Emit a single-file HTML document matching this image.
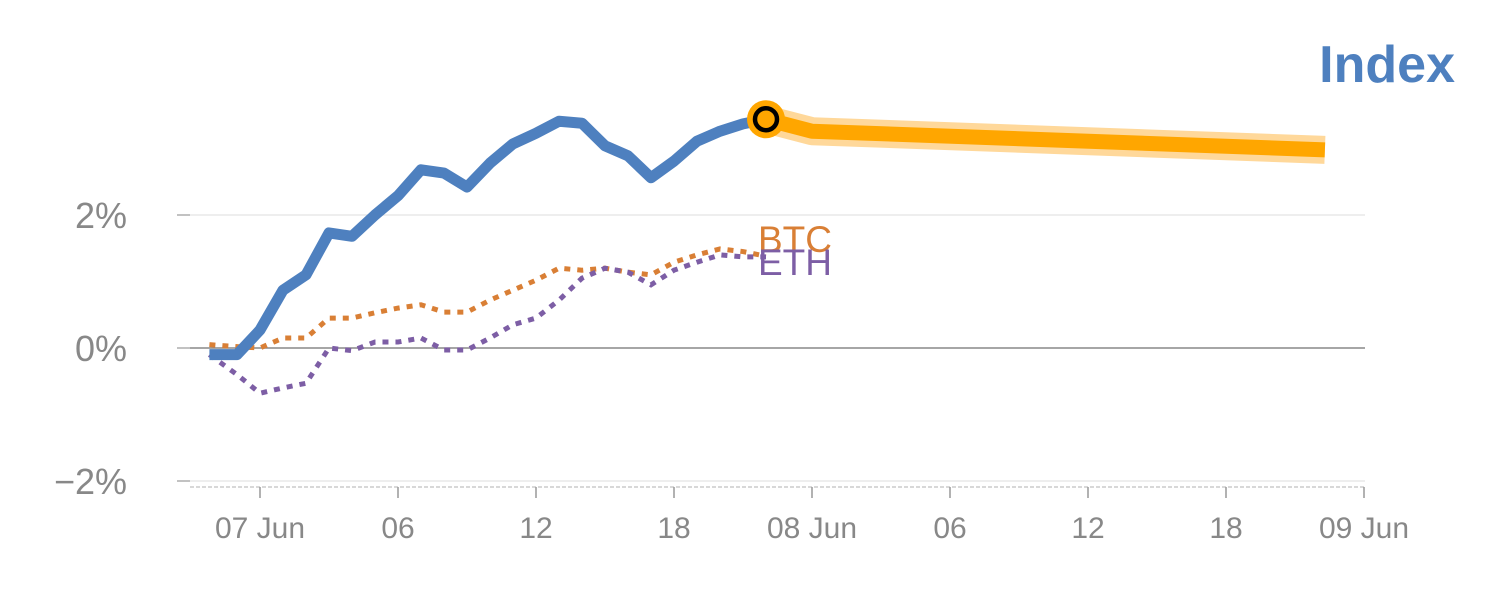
<!DOCTYPE html>
<html><head><meta charset="utf-8"><style>
body{margin:0;background:#fff;width:1500px;height:600px;overflow:hidden}
text{font-family:"Liberation Sans",sans-serif}
</style></head><body>
<svg id="chart" width="1500" height="600" xmlns="http://www.w3.org/2000/svg"></svg>
<script>
const hours=[-2.2,-1,0,1,2,3,4,5,6,7,8,9,10,11,12,13,14,15,16,17,18,19,20,21,22];
const indexVals=[-0.1,-0.1,0.27,0.87,1.1,1.73,1.68,2.0,2.29,2.68,2.63,2.42,2.78,3.07,3.23,3.41,3.38,3.04,2.89,2.56,2.81,3.11,3.26,3.37,3.44];
const btcVals=[0.05,0.02,0,0.15,0.15,0.45,0.45,0.53,0.6,0.65,0.54,0.54,0.72,0.87,1.02,1.2,1.17,1.2,1.14,1.1,1.29,1.4,1.49,1.45,1.38];
const ethVals=[-0.1,-0.4,-0.68,-0.6,-0.53,0,-0.04,0.09,0.09,0.15,-0.03,-0.03,0.15,0.35,0.45,0.72,1.05,1.2,1.14,0.95,1.17,1.29,1.4,1.37,1.37];
const fcHours=[22,24,46.3];
const fcVals=[3.44,3.26,2.98];
const yTicks=[2,0,-2];
const yTickLabels=["2%","0%","\u22122%"];
const xTicks=[0,6,12,18,24,30,36,42,48];
const xTickLabels=["07 Jun","06","12","18","08 Jun","06","12","18","09 Jun"];
const X=h=>260+h*23, Y=v=>348-v*66.5;
const svg=document.getElementById('chart');
const NS='http://www.w3.org/2000/svg';
function mk(t,a,p){const e=document.createElementNS(NS,t);for(const k in a)e.setAttribute(k,a[k]);(p||svg).appendChild(e);return e;}
yTicks.forEach((v,i)=>{
 const g=mk('line',{x1:190,x2:1365,y1:Y(v),y2:Y(v),stroke:v===0?'#888':'#e4e4e4','stroke-width':v===0?1.5:1.2});
 
 
 const tk=mk('line',{x1:177,x2:190,y1:Y(v),y2:Y(v),stroke:'#999','stroke-width':1.2});
 
 
 const t=mk('text',{x:127,y:Y(v)+13,'text-anchor':'end','font-size':36,fill:'#888'});t.textContent=yTickLabels[i];
 
 
});
const ax=mk('line',{x1:190,x2:1365,y1:487,y2:487,stroke:'#ccc','stroke-width':1.5,'stroke-dasharray':'4 2'});


xTicks.forEach((h,i)=>{
 const tk=mk('line',{x1:X(h),x2:X(h),y1:487,y2:498,stroke:'#999','stroke-width':1.5});
 
 
 const t=mk('text',{x:X(h),y:538,'text-anchor':'middle','font-size':30,fill:'#888'});t.textContent=xTickLabels[i];
 
 
});
const pts=(hs,vs)=>hs.map((h,i)=>X(h)+','+Y(vs[i])).join(' ');
let l=mk('polyline',{points:pts(hours,btcVals),fill:'none',stroke:'#d97f35','stroke-width':5,'stroke-dasharray':'6 7'});


l=mk('polyline',{points:pts(hours,ethVals),fill:'none',stroke:'#7d5ea5','stroke-width':5,'stroke-dasharray':'6 7'});


l=mk('polyline',{points:pts(fcHours,fcVals),fill:'none',stroke:'#ffd89a','stroke-width':28,'stroke-linejoin':'round'});


l=mk('polyline',{points:pts(fcHours,fcVals),fill:'none',stroke:'#ffa600','stroke-width':15,'stroke-linejoin':'round'});


l=mk('polyline',{points:pts(hours,indexVals),fill:'none',stroke:'#4e80bf','stroke-width':11,'stroke-linejoin':'round'});


const li=hours.length-1;
l=mk('circle',{cx:X(hours[li]),cy:Y(indexVals[li]),r:19,fill:'#ffa600'});


l=mk('circle',{cx:X(hours[li]),cy:Y(indexVals[li]),r:11,fill:'#ffa600',stroke:'#000','stroke-width':4.5});


let t=mk('text',{x:758,y:252,'font-size':37,fill:'#d97f35'});t.textContent='BTC';


t=mk('text',{x:758,y:275,'font-size':37,fill:'#7d5ea5'});t.textContent='ETH';


t=mk('text',{x:1455,y:82,'text-anchor':'end','font-size':52,'font-weight':'bold',fill:'#4e80bf'});t.textContent='Index';


</script>
</body></html>
